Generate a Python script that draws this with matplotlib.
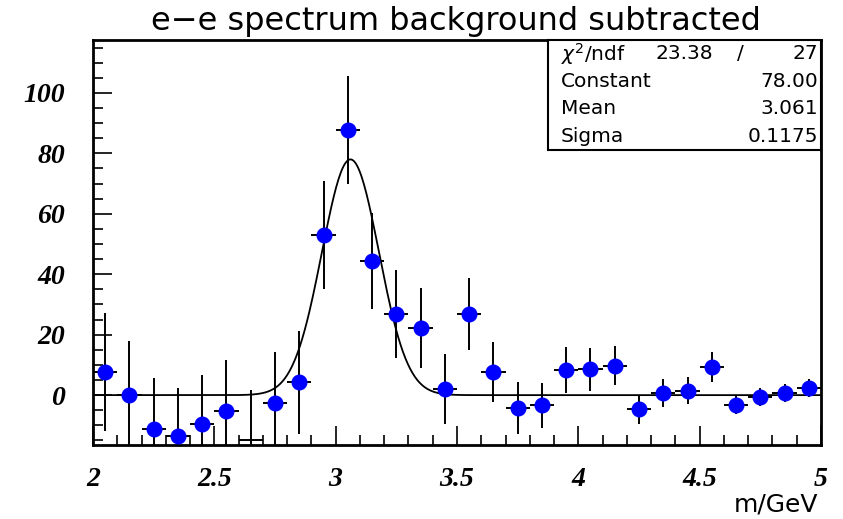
import numpy as np
import matplotlib.pyplot as plt
from matplotlib.ticker import MultipleLocator

# bin centres (GeV), counts and errors
mass = [2.05, 2.15, 2.25, 2.35, 2.45, 2.55, 2.65, 2.75, 2.85, 2.95,
        3.05, 3.15, 3.25, 3.35, 3.45, 3.55, 3.65, 3.75, 3.85, 3.95,
        4.05, 4.15, 4.25, 4.35, 4.45, 4.55, 4.65, 4.75, 4.85, 4.95]
counts = [7.6, 0.0, -11.3, -13.6, -9.6, -5.3, -19.0, -2.6, 4.3, 53.0,
          87.7, 44.4, 26.8, 22.2, 2.0, 26.8, 7.7, -4.2, -3.4, 8.3,
          8.5, 9.7, -4.7, 0.6, 1.4, 9.2, -3.2, -0.7, 0.8, 2.4]
errors = [19.5, 18.0, 17.0, 16.0, 16.2, 17.0, 20.6, 17.0, 17.0, 18.0,
          18.0, 16.0, 14.6, 13.2, 11.5, 11.8, 10.0, 8.5, 7.5, 7.7,
          7.0, 6.5, 4.8, 4.6, 4.5, 5.0, 3.0, 3.0, 3.0, 2.9]

# gaussian fit parameters
const, mean, sigma = 78.00, 3.061, 0.1175
chi2, ndf = 23.38, 27

xmin, xmax = 2.0, 5.0
ymin, ymax = -16.5, 117.5
half_bin = 0.05

fig = plt.figure(figsize=(8.43, 5.19), dpi=100)
ax = fig.add_axes([0.1103, 0.1426, 0.8636, 0.7803])

m = np.array(mass)
c = np.array(counts)
e = np.array(errors)

# vertical error bars
ax.vlines(m, c - e, c + e, color='black', lw=1.4, zorder=2)
# horizontal bin-width bars (points below the frame get them on the lower edge, like ROOT)
ybar = np.where(c < ymin, ymin + 1.5, c)
ax.hlines(ybar, m - half_bin, m + half_bin, color='black', lw=1.4, zorder=2)
inside = c >= ymin
ax.plot(m[inside], c[inside], 'o', color='#0000ff', ms=10.5, mec='#0000ff', zorder=3)

# fit curve
xs = np.linspace(xmin, xmax, 600)
ax.plot(xs, const * np.exp(-0.5 * ((xs - mean) / sigma) ** 2), color='black', lw=1.3, zorder=2)

ax.set_xlim(xmin, xmax)
ax.set_ylim(ymin, ymax)

ax.xaxis.set_major_locator(MultipleLocator(0.5))
ax.xaxis.set_minor_locator(MultipleLocator(0.1))
ax.yaxis.set_major_locator(MultipleLocator(20))
ax.yaxis.set_minor_locator(MultipleLocator(5))
ax.tick_params(which='major', direction='in', length=14, width=1.2)
ax.tick_params(which='minor', direction='in', length=7, width=1.2)
ax.tick_params(axis='x', which='major', pad=16)
ax.tick_params(axis='y', which='major', pad=20)
for s in ax.spines.values():
    s.set_linewidth(2)

ax.set_xticks([2, 2.5, 3, 3.5, 4, 4.5, 5])
ax.set_xticklabels(['2', '2.5', '3', '3.5', '4', '4.5', '5'])
for lab in ax.get_xticklabels() + ax.get_yticklabels():
    lab.set_family('Liberation Serif')
    lab.set_fontweight('bold')
    lab.set_fontstyle('italic')
    lab.set_fontsize(20)

fig.text(0.541, 0.958, 'e\u2212e spectrum background subtracted', ha='center', va='center',
         fontsize=23, family='DejaVu Sans')
fig.text(0.971, 0.027, 'm/GeV', ha='right', va='center', fontsize=18, family='DejaVu Sans')

# stats box
bx0, bx1 = 548 / 843, 821 / 843
by1, by0 = 1 - 40 / 519, 1 - 150 / 519
box = plt.Rectangle((bx0, by0), bx1 - bx0, by1 - by0, transform=fig.transFigure,
                    facecolor='white', edgecolor='black', lw=1.5, zorder=5)
fig.add_artist(box)
rows = [
    ('Constant', f'{const:.2f}'),
    ('Mean', f'{mean:.3f}'),
    ('Sigma', f'{sigma:.4f}'),
]
rh = (by1 - by0) / 4
fs = 14.5
fig.text(bx0 + 0.015, by1 - rh * 0.5, r'$\chi^2$/ndf', ha='left', va='center', fontsize=fs, zorder=6)
fig.text(bx0 + 0.196, by1 - rh * 0.5, f'{chi2:.2f}', ha='right', va='center', fontsize=fs, zorder=6)
fig.text(bx0 + 0.228, by1 - rh * 0.5, '/', ha='center', va='center', fontsize=fs, zorder=6)
fig.text(bx1 - 0.004, by1 - rh * 0.5, f'{ndf}', ha='right', va='center', fontsize=fs, zorder=6)
for i, (name, val) in enumerate(rows):
    yy = by1 - rh * (i + 1.5)
    fig.text(bx0 + 0.015, yy, name, ha='left', va='center', fontsize=fs, zorder=6)
    fig.text(bx1 - 0.004, yy, val, ha='right', va='center', fontsize=fs, zorder=6)

fig.savefig('out.png', dpi=100)
